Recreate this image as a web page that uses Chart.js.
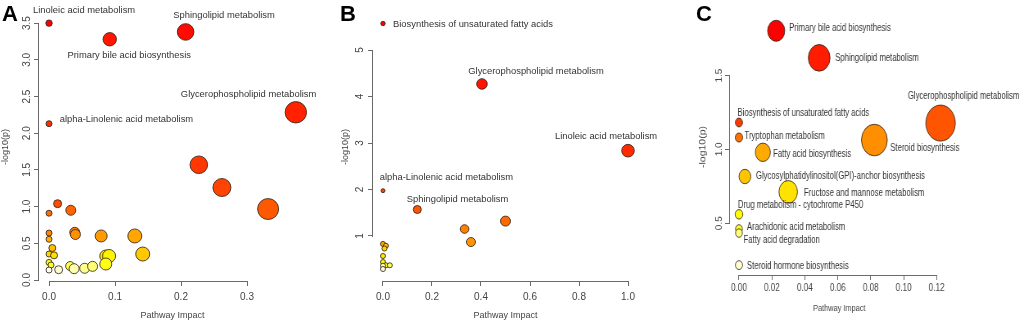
<!DOCTYPE html>
<html><head><meta charset="utf-8">
<script src="https://cdn.jsdelivr.net/npm/chart.js@4"></script>
<style>
html,body{margin:0;padding:0;background:#fff;}
body{width:1024px;height:323px;position:relative;overflow:hidden;}
.panel{position:absolute;top:0;height:323px;}
.letter{position:absolute;top:3px;font:bold 22px/1 "Liberation Sans",Arial,sans-serif;color:#000;}
</style></head><body>
<div class="panel" style="left:0;width:340px"><canvas id="cA" width="340" height="323"></canvas></div>
<div class="panel" style="left:340px;width:340px"><canvas id="cB" width="340" height="323"></canvas></div>
<div class="panel" style="left:680px;width:420px;transform:scaleX(0.819);transform-origin:0 0"><canvas id="cC" width="420" height="323"></canvas></div>
<div class="letter" style="left:2px">A</div>
<div class="letter" style="left:340px">B</div>
<div class="letter" style="left:696px">C</div>
<script>
// ---------- DATA ----------
// Panel A
const impactA = [0, 0.092, 0.207, 0.374, 0, 0.227, 0.262, 0.332, 0.013, 0, 0.033, 0.039, 0.040, 0.079, 0.130, 0.142, 0, 0, 0.005, 0, 0.0076, 0, 0.003, 0, 0.0146, 0.032, 0.038, 0.054, 0.066, 0.086, 0.091, 0.086];
const logpA   = [3.50, 3.28, 3.38, 2.285, 2.13, 1.57, 1.26, 0.967, 1.04, 0.91, 0.95, 0.65, 0.62, 0.60, 0.60, 0.354, 0.64, 0.555, 0.436, 0.354, 0.336, 0.24, 0.204, 0.136, 0.14, 0.19, 0.154, 0.16, 0.186, 0.327, 0.327, 0.218];
const sizeA   = [3.2, 6.7, 8.3, 10.7, 3, 8.8, 9, 10.5, 4, 3, 5, 5, 5, 6, 7, 7, 3, 3, 3.5, 3, 3.5, 3, 3, 3, 4, 4.5, 5, 5, 5, 6, 6.5, 6];
const namesA  = ["Linoleic acid metabolism", "Primary bile acid biosynthesis", "Sphingolipid metabolism", "Glycerophospholipid metabolism", "alpha-Linolenic acid metabolism"];
const xTicksA = ["0.0", "0.1", "0.2", "0.3"];
const yTicksA = ["0.0", "0.5", "1.0", "1.5", "2.0", "2.5", "3.0", "3.5"];

// Panel B
const impactB = [0, 0.404, 1.0, 0, 0.14, 0.333, 0.5, 0.359, 0, 0.012, 0.006, 0, 0, 0.012, 0.028, 0, 0];
const logpB   = [5.57, 4.27, 2.835, 1.975, 1.57, 1.15, 1.32, 0.87, 0.83, 0.79, 0.73, 0.57, 0.44, 0.37, 0.37, 0.36, 0.29];
const sizeB   = [2.2, 5.3, 6.3, 2, 4, 4.3, 5, 4.5, 2.5, 2.5, 2.5, 2.5, 2.5, 2.5, 2.5, 2.5, 2.5];
const namesB  = ["Biosynthesis of unsaturated fatty acids", "Glycerophospholipid metabolism", "Linoleic acid metabolism", "alpha-Linolenic acid metabolism", "Sphingolipid metabolism"];
const xTicksB = ["0.0", "0.2", "0.4", "0.6", "0.8", "1.0"];
const yTicksB = ["1", "2", "3", "4", "5"];

// Panel C
const impactC = [0.0226, 0.0487, 0.1224, 0, 0, 0.0822, 0.0145, 0.0036, 0.0299, 0, 0, 0, 0];
const logpC   = [1.803, 1.62, 1.178, 1.182, 1.08, 1.063, 0.98, 0.816, 0.712, 0.56, 0.461, 0.433, 0.216];
const sizeC   = [10.5, 13.3, 18, 4.4, 4.5, 15.8, 9.2, 7.2, 11.3, 4.7, 4.2, 4.2, 4.4];
const namesC  = ["Primary bile acid biosynthesis", "Sphingolipid metabolism", "Glycerophospholipid metabolism", "Biosynthesis of unsaturated fatty acids", "Tryptophan metabolism", "Steroid biosynthesis", "Fatty acid biosynthesis", "Glycosylphatidylinositol(GPI)-anchor biosynthesis", "Fructose and mannose metabolism", "Drug metabolism - cytochrome P450", "Arachidonic acid metabolism", "Fatty acid degradation", "Steroid hormone biosynthesis"];
const xTicksC = ["0.00", "0.02", "0.04", "0.06", "0.08", "0.10", "0.12"];
const yTicksC = ["0.5", "1.0", "1.5"];

// ---------- STYLE (label placement offsets in screen px) ----------
const labelOffA = [[-16,-12.6],[-42.3,16],[-12.4,-16.7],[-115,-17.6],[10.7,-4.7]];
const labelOffB = [[10,1],[-13.7,-13],[-73,-14.7],[-3.3,-13.4],[-10.6,-10.3]];
const labelOffC = [[13,-3],[16,0.7],[-32.7,-26.7],[-1.4,-9.6],[5.6,-1],[16,8.4],[10.3,2.3],[11,-0.3],[15.7,1],[-1,-9.4],[8,-1.7],[4.6,6.7],[8,0.6]];

const FONT = '"Liberation Sans", Arial, sans-serif';

// R heat.colors(n)
function hsv(h, s, v) {
  const i = Math.floor(h * 6), f = h * 6 - i;
  const p = v * (1 - s), q = v * (1 - f * s), t = v * (1 - (1 - f) * s);
  let r, g, b;
  switch (i % 6) {
    case 0: r = v; g = t; b = p; break;
    case 1: r = q; g = v; b = p; break;
    case 2: r = p; g = v; b = t; break;
    case 3: r = p; g = q; b = v; break;
    case 4: r = t; g = p; b = v; break;
    default: r = v; g = p; b = q;
  }
  return `rgb(${Math.round(r*255)},${Math.round(g*255)},${Math.round(b*255)})`;
}
function heatColors(n) {
  const j = Math.floor(n / 4), i = n - j, out = [];
  for (let k = 0; k < i; k++) out.push(hsv(i > 1 ? (k / (i - 1)) / 6 : 0, 1, 1));
  const s0 = 1 - 1 / (2 * j), s1 = 1 / (2 * j);
  for (let k = 0; k < j; k++) out.push(hsv(1 / 6, j > 1 ? s0 + (s1 - s0) * k / (j - 1) : s0, 1));
  return out;
}
function rankColors(vals) {
  const order = vals.map((v, i) => i).sort((a, b) => vals[b] - vals[a]);
  const cols = heatColors(vals.length), out = [];
  order.forEach((idx, r) => out[idx] = cols[r]);
  return out;
}

function makePanel(id, s) {
  const points = s.impact.map((x, i) => ({ x: x, y: s.logp[i], r: s.size[i] }));
  const labelPlugin = {
    id: 'rLabels' + id,
    afterDatasetsDraw(chart) {
      const meta = chart.getDatasetMeta(0), ctx = chart.ctx;
      ctx.save();
      ctx.font = s.labelSize + 'px ' + FONT;
      ctx.fillStyle = '#333';
      ctx.textAlign = 'left';
      ctx.textBaseline = 'middle';
      s.names.forEach((n, i) => {
        const el = meta.data[i], off = s.labelOff[i];
        ctx.save();
        ctx.translate(el.x + off[0] / s.sx, el.y + off[1]);
        ctx.scale(s.labelSX, 1);
        ctx.fillText(n, 0, 0);
        ctx.restore();
      });
      ctx.restore();
    }
  };
  const axisPlugin = {
    id: 'rAxes' + id,
    afterDraw(chart) {
      const { ctx, chartArea: a, scales: { x, y } } = chart;
      ctx.save();
      ctx.strokeStyle = '#6a6a6a';
      ctx.lineWidth = 1;
      ctx.beginPath();
      const yb = Math.round(a.bottom) + 0.5;
      ctx.moveTo(Math.round(x.getPixelForValue(x.ticks[0].value)), yb);
      ctx.lineTo(Math.round(x.getPixelForValue(x.ticks[x.ticks.length - 1].value)) + 1, yb);
      const xl = Math.round(a.left) - 0.5;
      ctx.moveTo(xl, Math.round(y.getPixelForValue(y.ticks[0].value)) + 1);
      ctx.lineTo(xl, Math.round(y.getPixelForValue(y.ticks[y.ticks.length - 1].value)));
      ctx.stroke();
      ctx.restore();
    }
  };
  return new Chart(document.getElementById(id), {
    type: 'bubble',
    data: { datasets: [{
      data: points,
      backgroundColor: rankColors(s.logp),
      borderColor: 'rgba(55,40,30,0.85)',
      borderWidth: 1,
      clip: false
    }] },
    options: {
      responsive: false, animation: false, devicePixelRatio: 1, events: [],
      layout: { padding: { top: s.pad.top, right: s.pad.right, left: s.pad.left, bottom: 0 } },
      plugins: { legend: { display: false }, tooltip: { enabled: false } },
      scales: {
        x: {
          type: 'linear', bounds: 'data', min: s.xr[0], max: s.xr[1],
          afterFit: sc => { sc.height = s.xAxisH; },
          afterBuildTicks: sc => { sc.ticks = s.xTicks.map(t => ({ value: parseFloat(t) })); },
          ticks: { autoSkip: false, maxRotation: 0, minRotation: 0, padding: s.xTickPad, color: '#444',
                   font: { family: FONT, size: s.tickSize }, callback: (v, i) => s.xTicks[i] },
          grid: { display: true, drawOnChartArea: false, drawTicks: true, tickLength: s.tlx, color: '#6a6a6a', lineWidth: 1 },
          border: { display: false },
          title: { display: true, text: 'Pathway Impact', color: '#444', font: { family: FONT, size: s.titleSize },
                   padding: { top: 0, bottom: s.xTitlePad } }
        },
        y: {
          type: 'linear', bounds: 'data', min: s.yr[0], max: s.yr[1],
          afterFit: sc => { sc.width = s.yAxisW; },
          afterBuildTicks: sc => { sc.ticks = s.yTicks.map(t => ({ value: parseFloat(t) })); },
          ticks: { autoSkip: false, minRotation: 90, maxRotation: 90, crossAlign: 'center', padding: s.yTickPad, color: '#444',
                   font: { family: FONT, size: s.tickSize }, callback: (v, i) => s.yTicks[i] },
          grid: { display: true, drawOnChartArea: false, drawTicks: true, tickLength: s.tly, color: '#6a6a6a', lineWidth: 1 },
          border: { display: false },
          title: { display: true, text: '-log10(p)', color: '#444', font: { family: FONT, size: s.yTitleSize },
                   padding: { top: 0, bottom: 0 } }
        }
      }
    },
    plugins: [labelPlugin, axisPlugin]
  });
}

makePanel('cA', {
  impact: impactA, logp: logpA, size: sizeA, names: namesA, labelOff: labelOffA, sx: 1, labelSX: 1, labelSize: 9.4,
  xTicks: xTicksA, yTicks: yTicksA, xr: [-0.0152, 0.3894], yr: [-0.0136, 3.638],
  pad: { top: 13, right: 34, left: 0 }, yAxisW: 39, xAxisH: 42,
  xTickPad: 5, yTickPad: 0, xTitlePad: 1.6, tickSize: 10, titleSize: 9, yTitleSize: 9, tlx: 5, tly: 5
});
makePanel('cB', {
  impact: impactB, logp: logpB, size: sizeB, names: namesB, labelOff: labelOffB, sx: 1, labelSX: 1, labelSize: 9.4,
  xTicks: xTicksB, yTicks: yTicksB, xr: [-0.0408, 1.0408], yr: [0.032, 5.796],
  pad: { top: 13, right: 42, left: 0 }, yAxisW: 33, xAxisH: 42,
  xTickPad: 5, yTickPad: 4.7, xTitlePad: 1.6, tickSize: 10, titleSize: 9, yTitleSize: 9, tlx: 5, tly: 5
});
makePanel('cC', {
  impact: impactC, logp: logpC, size: sizeC, names: namesC, labelOff: labelOffC, sx: 0.819, labelSX: 0.925, labelSize: 10.2,
  xTicks: xTicksC, yTicks: yTicksC, xr: [-0.00546, 0.1273], yr: [0.149, 1.883],
  pad: { top: 8, right: 92, left: 22 }, yAxisW: 39, xAxisH: 48,
  xTickPad: 2, yTickPad: 0, xTitlePad: 8.6, tickSize: 10, titleSize: 9, yTitleSize: 10.5, tlx: 5, tly: 6
});
</script>
</body></html>
